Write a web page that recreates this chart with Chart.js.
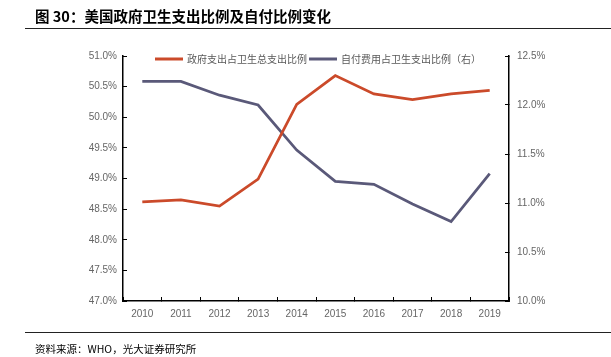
<!DOCTYPE html>
<html>
<head>
<meta charset="utf-8">
<script src="https://cdn.jsdelivr.net/npm/chart.js@4.4.1/dist/chart.umd.min.js"></script>
<style>
  html, body { margin: 0; padding: 0; background: #fff; }
  #wrap { position: relative; width: 611px; height: 357px; overflow: hidden; }
  #c { position: absolute; left: 0; top: 0; }
  .title { position: absolute; left: 35px; top: 6px; font: bold 14.5px "Noto Sans CJK SC", sans-serif; color: #000; line-height: 20px; white-space: nowrap; }
  .rule { position: absolute; left: 25px; width: 586px; height: 1px; background: #222; }
  .source { position: absolute; left: 35px; top: 342px; font: 10.5px "Noto Sans CJK SC", sans-serif; color: #000; line-height: 14px; white-space: nowrap; }
</style>
</head>
<body>
<div id="wrap">
  <canvas id="c" width="611" height="357"></canvas>
  <div class="title">图 30：美国政府卫生支出比例及自付比例变化</div>
  <div class="rule" style="top:28px"></div>
  <div class="rule" style="top:332px"></div>
  <div class="source">资料来源：WHO，光大证券研究所</div>
</div>
<script>
const years = ['2010','2011','2012','2013','2014','2015','2016','2017','2018','2019'];
const govShare = [48.62, 48.65, 48.55, 48.99, 50.21, 50.68, 50.38, 50.29, 50.38, 50.44];
const oopShare = [12.24, 12.24, 12.10, 12.00, 11.54, 11.22, 11.19, 10.99, 10.81, 11.30];
const seriesNames = ['政府支出占卫生总支出比例', '自付费用占卫生支出比例（右）'];
const seriesColors = ['#CB4A2A', '#5A5979'];

const tickFont = { family: '"Liberation Sans", sans-serif', size: 10 };
const tickColor = '#666666';

const legendPlugin = {
  id: 'customLegend',
  afterDraw(chart) {
    const ctx = chart.ctx;
    ctx.save();
    ctx.font = '10px "Noto Sans CJK SC", sans-serif';
    ctx.textBaseline = 'middle';
    let x = 155;
    const y = 59;
    chart.data.datasets.forEach(ds => {
      ctx.strokeStyle = ds.borderColor;
      ctx.lineWidth = 3;
      ctx.beginPath();
      ctx.moveTo(x, y);
      ctx.lineTo(x + 28, y);
      ctx.stroke();
      x += 32;
      ctx.fillStyle = '#595959';
      ctx.fillText(ds.label, x, y);
      x += ctx.measureText(ds.label).width + 2;
    });
    ctx.restore();
  }
};

new Chart(document.getElementById('c'), {
  type: 'line',
  data: {
    labels: years,
    datasets: [
      { label: seriesNames[0], data: govShare, yAxisID: 'y', borderColor: seriesColors[0], backgroundColor: seriesColors[0], borderWidth: 2.75, pointRadius: 0, tension: 0 },
      { label: seriesNames[1], data: oopShare, yAxisID: 'y1', borderColor: seriesColors[1], backgroundColor: seriesColors[1], borderWidth: 2.75, pointRadius: 0, tension: 0 }
    ]
  },
  options: {
    responsive: false,
    animation: false,
    devicePixelRatio: 1,
    layout: { padding: { top: 56, bottom: 36, left: 0, right: 0 } },
    plugins: { legend: { display: false }, tooltip: { enabled: false } },
    scales: {
      x: {
        offset: true,
        grid: { offset: true, drawOnChartArea: false, drawTicks: true, tickLength: -4, color: '#000', tickWidth: 1 },
        border: { display: true, color: '#000', width: 1.5 },
        ticks: { font: tickFont, color: tickColor, padding: 11, maxRotation: 0, autoSkip: false },
        afterFit(s) { s.height = 20; }
      },
      y: {
        position: 'left',
        min: 47, max: 51,
        grid: { drawOnChartArea: false, drawTicks: true, tickLength: -4, color: '#000', tickWidth: 1 },
        border: { display: true, color: '#000', width: 1.5 },
        ticks: { stepSize: 0.5, font: tickFont, color: tickColor, padding: 10, callback: v => v.toFixed(1) + '%' },
        afterFit(s) { s.width = 123; }
      },
      y1: {
        position: 'right',
        min: 10, max: 12.5,
        grid: { drawOnChartArea: false, drawTicks: true, tickLength: -4, color: '#000', tickWidth: 1 },
        border: { display: true, color: '#000', width: 1.5 },
        ticks: { stepSize: 0.5, font: tickFont, color: tickColor, padding: 12, callback: v => v.toFixed(1) + '%' },
        afterFit(s) { s.width = 102; }
      }
    }
  },
  plugins: [legendPlugin]
});
</script>
</body>
</html>
